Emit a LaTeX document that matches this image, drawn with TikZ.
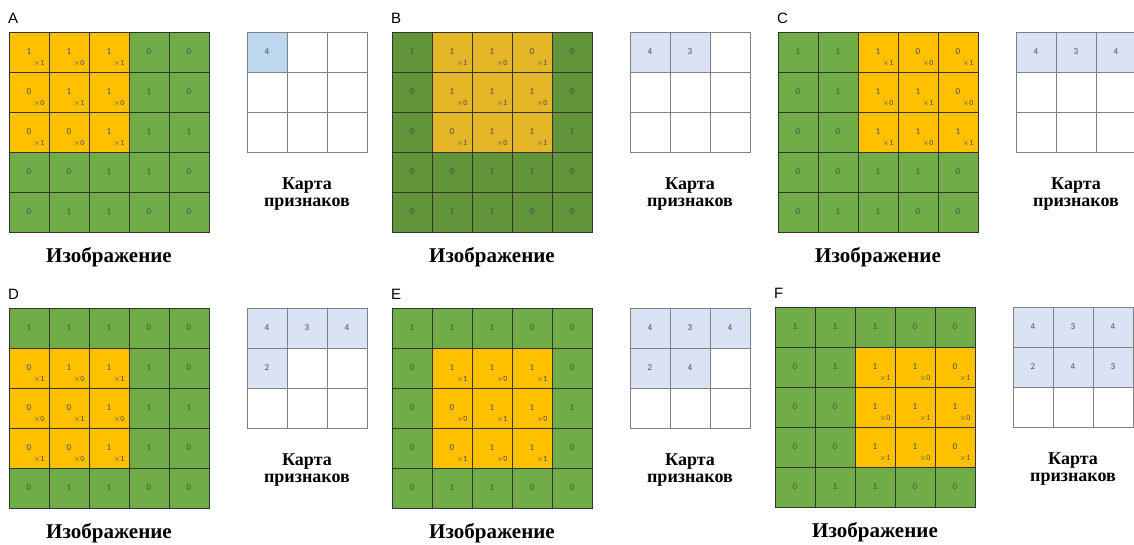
\documentclass[tikz,border=0pt]{standalone}
\usepackage{fontspec}
\setmainfont{Liberation Serif}
\newfontfamily\cellfont{Carlito}
\newfontfamily\tagfont{Liberation Sans}
\usetikzlibrary{positioning}
\definecolor{CellGreen}{RGB}{112,173,71}
\definecolor{CellGold}{RGB}{255,192,0}
\definecolor{DimGreen}{RGB}{98,148,58}
\definecolor{DimGold}{RGB}{228,182,40}
\definecolor{MapBlue}{RGB}{218,227,243}
\definecolor{MapBlueHi}{RGB}{189,215,238}
\tikzset{
  imgcell/.style={draw=black!80,line width=0.7pt,minimum size=40pt,inner sep=0pt,
    font=\cellfont\fontsize{9}{9}\selectfont,text=black!70},
  mapcell/.style={draw=black!50,line width=0.7pt,minimum size=40pt,inner sep=0pt,
    font=\cellfont\fontsize{9}{9}\selectfont,text=black!70},
  weight/.style={inner sep=0pt,font=\cellfont\fontsize{8}{8}\selectfont,text=black!70},
  tag/.style={anchor=west,inner sep=0pt,font=\tagfont\fontsize{15}{15}\selectfont},
  mapcaption/.style={align=center,font=\bfseries\fontsize{18}{17}\selectfont},
  imgcaption/.style={inner sep=1pt,font=\bfseries\fontsize{21}{21}\selectfont},
}
% image, kernel and feature map values
\def\imgvals{{1,1,1,0,0, 0,1,1,1,0, 0,0,1,1,1, 0,0,1,1,0, 0,1,1,0,0}}
\def\kervals{{1,0,1, 0,1,0, 1,0,1}}
\def\mapvals{{4,3,4, 2,4,3, 0,0,0}}
% #1 name, #2 letter, #3,#4 grid corner, #5,#6 window row/col,
% #7 filled map cells, #8 green, #9 gold, first map cell colour
\newcommand{\convpanel}[9]{%
  \node[tag] (#1-tag) at (#3-1,#4-14) {#2};
  \foreach \r in {0,...,4}{
    \foreach \c in {0,...,4}{
      \pgfmathtruncatemacro{\v}{\imgvals[\r*5+\c]}
      \pgfmathtruncatemacro{\inwin}{(\r>=#5)*(\r<#5+3)*(\c>=#6)*(\c<#6+3)}
      \ifnum\inwin=1
        \pgfmathtruncatemacro{\k}{\kervals[(\r-#5)*3+\c-#6]}
        \node[imgcell,fill=#9] (#1-\r-\c) at (#3+40*\c+20,#4+40*\r+20) {\v};
        \node[weight] (#1-w-\r-\c) at ([xshift=10pt,yshift=-11pt]#1-\r-\c.center) {$\times$\k};
      \else
        \node[imgcell,fill=#8] (#1-\r-\c) at (#3+40*\c+20,#4+40*\r+20) {\v};
      \fi
    }
  }
  \foreach \i in {0,...,8}{
    \pgfmathtruncatemacro{\mr}{int(\i/3)}
    \pgfmathtruncatemacro{\mc}{mod(\i,3)}
    \ifnum\i<#7
      \pgfmathtruncatemacro{\m}{\mapvals[\i]}
      \ifnum\i=0
        \node[mapcell,fill=\firstblue] (#1-m-\i) at (#3+238+40*\mc+20,#4+40*\mr+20) {\m};
      \else
        \node[mapcell,fill=MapBlue] (#1-m-\i) at (#3+238+40*\mc+20,#4+40*\mr+20) {\m};
      \fi
    \else
      \node[mapcell,fill=white] (#1-m-\i) at (#3+238+40*\mc+20,#4+40*\mr+20) {};
    \fi
  }
  \node[mapcaption] (#1-mapcap) at (#3+298,#4+162) {Карта\\признаков};
  \node[imgcaption] (#1-imgcap) at (#3+100,#4+225) {Изображение};
}

\begin{document}
\begin{tikzpicture}[x=1pt,y=-1pt]
  \useasboundingbox (0,0) rectangle (1134,544);
  \def\firstblue{MapBlueHi}
  \convpanel{a}{A}{9}{32}{0}{0}{1}{CellGreen}{CellGold}
  \def\firstblue{MapBlue}
  \convpanel{b}{B}{392}{32}{0}{1}{2}{DimGreen}{DimGold}
  \convpanel{c}{C}{778}{32}{0}{2}{3}{CellGreen}{CellGold}
  \convpanel{d}{D}{9}{308}{1}{0}{4}{CellGreen}{CellGold}
  \convpanel{e}{E}{392}{308}{1}{1}{5}{CellGreen}{CellGold}
  \convpanel{f}{F}{775}{307}{1}{2}{6}{CellGreen}{CellGold}
\end{tikzpicture}
\end{document}
